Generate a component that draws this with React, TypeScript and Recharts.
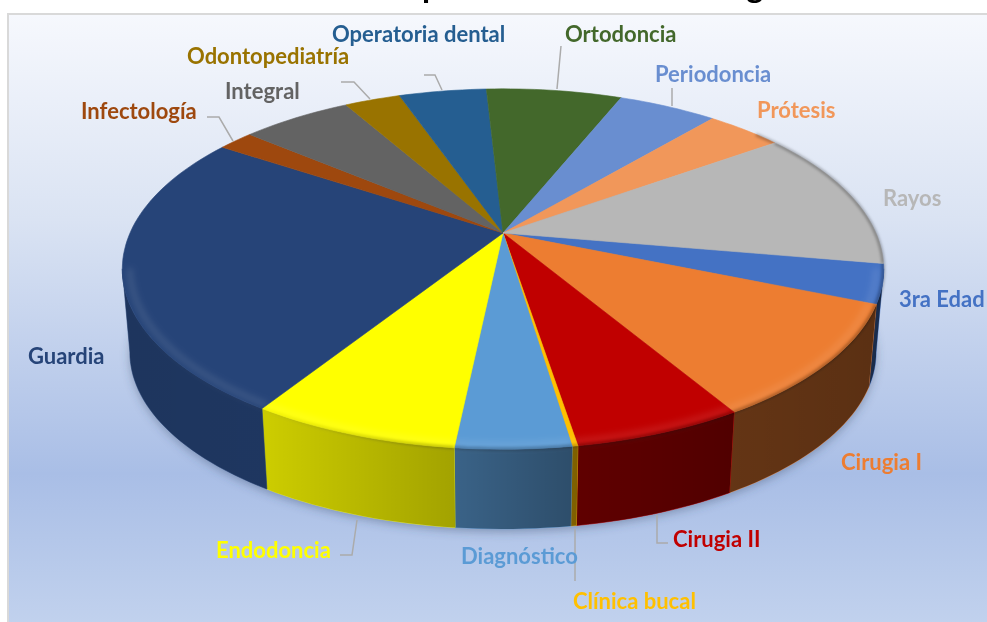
import { PieChart, Pie } from 'recharts';

const categories = ['3ra Edad', 'Cirugia I', 'Cirugia II', 'Clínica bucal', 'Diagnóstico', 'Endodoncia', 'Guardia', 'Infectología', 'Integral', 'Odontopediatría', 'Operatoria dental', 'Ortodoncia', 'Periodoncia', 'Prótesis', 'Rayos'];
const shares = [3.5, 10.2, 6.0, 0.2, 4.05, 7.35, 25.25, 1.83, 5.67, 2.87, 4.51, 6.97, 5.08, 3.92, 12.6];
const colors = ['#4472C4', '#ED7D31', '#C00000', '#FFC000', '#5B9BD5', '#FFFF00', '#264478', '#9E480E', '#636363', '#997300', '#255E91', '#43682B', '#698ED0', '#F1975A', '#B7B7B7'];

const tableData = categories.map((name, i) => ({ name, value: shares[i], fill: colors[i] }));

// label text position (left x, middle y) and leader line, by category
const labelSpots: Record<string, { x: number; y: number; leader?: number[][] }> = {
  '3ra Edad': { x: 899, y: 298 },
  'Cirugia I': { x: 841, y: 461 },
  'Cirugia II': { x: 673, y: 538, leader: [[657, 515], [657, 543], [668, 543]] },
  'Clínica bucal': { x: 573, y: 600, leader: [[575, 529], [575, 581]] },
  'Diagnóstico': { x: 461, y: 555 },
  'Endodoncia': { x: 216, y: 549, leader: [[340, 555], [352, 555], [357, 520]] },
  'Guardia': { x: 28, y: 355 },
  'Infectología': { x: 81, y: 110, leader: [[207, 117], [219, 117], [233, 141]] },
  'Integral': { x: 225, y: 90 },
  'Odontopediatría': { x: 187, y: 55, leader: [[341, 82], [354, 82], [370, 99]] },
  'Operatoria dental': { x: 332, y: 33, leader: [[424, 75], [435, 75], [442, 90]] },
  'Ortodoncia': { x: 565, y: 33, leader: [[561, 46], [557, 89]] },
  'Periodoncia': { x: 655, y: 73, leader: [[672, 88], [672, 106]] },
  'Prótesis': { x: 757, y: 109 },
  'Rayos': { x: 883, y: 197 },
};

// perspective tilt of the pie
const CX = 503;
const CY = 233;
const RX = 373;
const RY = 173;
const PERSP = 0.2;
const DROP = 84;
const BOTTOM_SCALE = 0.98;
// where the rim turns away from the viewer
const WALL_FROM = -11.5;
const WALL_TO = -168.5;

const project = (deg: number, scale = 1, drop = 0) => {
  const a = (deg * Math.PI) / 180;
  const w = 1 + PERSP * Math.sin(a);
  return [CX + (scale * RX * Math.cos(a)) / w, CY + drop - (scale * RY * Math.sin(a)) / w];
};

const arcPoints = (from: number, to: number, scale = 1, drop = 0) => {
  const steps = Math.max(2, Math.ceil(Math.abs(to - from) / 1.5));
  const pts = [];
  for (let i = 0; i <= steps; i++) {
    const p = project(from + ((to - from) * i) / steps, scale, drop);
    pts.push(`${p[0].toFixed(1)} ${p[1].toFixed(1)}`);
  }
  return pts;
};

const toPath = (pts: string[], close = false) => 'M' + pts.join('L') + (close ? 'Z' : '');

function Slice(props: any) {
  let start = props.startAngle;
  let end = props.endAngle;
  if (start < -195) {
    start += 360;
    end += 360;
  }
  const wallStart = Math.min(start, WALL_FROM);
  const wallEnd = Math.max(end, WALL_TO);
  const edgeStart = Math.min(start, 40);
  const edgeEnd = Math.max(end, -195);
  const hasWall = wallStart > wallEnd && start < 0;
  const hasEdge = edgeStart > edgeEnd;
  const wall = hasWall
    ? toPath([...arcPoints(wallStart, wallEnd), ...arcPoints(wallEnd, wallStart, BOTTOM_SCALE, DROP)], true)
    : '';
  const c = project(0, 0);
  const top = toPath([`${c[0]} ${c[1]}`, ...arcPoints(start, end)], true);
  return (
    <g>
      {hasWall && (
        <>
          <path d={wall} fill={props.fill} stroke={props.fill} strokeWidth={0.6} />
          <path d={wall} fill="url(#wallShade)" />
        </>
      )}
      <path d={top} fill={props.fill} stroke={props.fill} strokeWidth={0.6} />
      {hasWall && (
        <path d={toPath(arcPoints(wallStart, wallEnd, 0.98))} fill="none" stroke="#fff" strokeOpacity={0.1} strokeWidth={6} filter="url(#soft3)" />
      )}
      {hasEdge && (
        <path d={toPath(arcPoints(edgeStart, edgeEnd, 0.999))} fill="none" stroke="url(#edgeShade)" strokeWidth={3} filter="url(#soft1)" />
      )}
    </g>
  );
}

function renderLabel(props: any) {
  const spot = labelSpots[props.name];
  return (
    <g>
      {spot.leader && (
        <polyline points={spot.leader.map((p) => p.join(',')).join(' ')} fill="none" stroke="#ABABAB" strokeWidth={1.5} />
      )}
      <text x={spot.x} y={spot.y} fill={props.fill} fontFamily="Lato" fontWeight={700} fontSize={22} dominantBaseline="central">
        {props.name}
      </text>
    </g>
  );
}

const shadowPath = toPath(arcPoints(0, 360, BOTTOM_SCALE, DROP + 3), true);

export default function App() {
  return (
    <div style={{ position: 'absolute', left: 0, top: 0, width: 987, height: 622, overflow: 'hidden', background: '#fff', filter: 'blur(0.45px)' }}>
      <div
        style={{
          position: 'absolute',
          left: 7,
          top: 13,
          width: 990,
          height: 620,
          border: '2px solid #D9D9D9',
          background: 'linear-gradient(180deg, #F6F8FD 0%, #DAE3F3 33%, #A9BEE6 74%, #C3D3EE 100%)',
        }}
      />
      <div
        style={{
          position: 'absolute',
          left: 0,
          width: 995,
          top: -36.5,
          textAlign: 'center',
          fontFamily: 'Lato',
          fontWeight: 700,
          fontSize: 32.75,
          lineHeight: '44px',
          whiteSpace: 'nowrap',
          color: '#000',
        }}
      >
        Gráfico 11. Total prestaciones odontológicas
      </div>
      <div style={{ position: 'absolute', left: 0, top: 0 }}>
        <PieChart width={987} height={622} margin={{ top: 0, right: 0, bottom: 0, left: 0 }}>
          <defs>
            <linearGradient id="wallShade" gradientUnits="userSpaceOnUse" x1={122} y1={0} x2={886} y2={0}>
              <stop offset="0" stopColor="#000" stopOpacity={0.22} />
              <stop offset="0.19" stopColor="#000" stopOpacity={0.2} />
              <stop offset="0.43" stopColor="#000" stopOpacity={0.36} />
              <stop offset="0.59" stopColor="#000" stopOpacity={0.5} />
              <stop offset="0.8" stopColor="#000" stopOpacity={0.58} />
              <stop offset="1" stopColor="#000" stopOpacity={0.62} />
            </linearGradient>
            <linearGradient id="edgeShade" gradientUnits="userSpaceOnUse" x1={122} y1={0} x2={886} y2={0}>
              <stop offset="0.15" stopColor="#000" stopOpacity={0} />
              <stop offset="0.4" stopColor="#000" stopOpacity={0.25} />
              <stop offset="1" stopColor="#000" stopOpacity={0.32} />
            </linearGradient>
            <filter id="soft1" filterUnits="userSpaceOnUse" x={0} y={0} width={987} height={622}>
              <feGaussianBlur stdDeviation={1.5} />
            </filter>
            <filter id="soft3" filterUnits="userSpaceOnUse" x={0} y={0} width={987} height={622}>
              <feGaussianBlur stdDeviation={3} />
            </filter>
            <filter id="soft6" filterUnits="userSpaceOnUse" x={0} y={0} width={987} height={622}>
              <feGaussianBlur stdDeviation={5} />
            </filter>
          </defs>
          <path d={shadowPath} fill="#3A4A6A" fillOpacity={0.4} filter="url(#soft6)" />
          <Pie
            data={tableData}
            dataKey="value"
            nameKey="name"
            cx={CX}
            cy={CY}
            outerRadius={RX}
            startAngle={-9.8}
            endAngle={-369.8}
            stroke="none"
            shape={Slice}
            label={renderLabel}
            labelLine={false}
            isAnimationActive={false}
          />
        </PieChart>
      </div>
    </div>
  );
}
